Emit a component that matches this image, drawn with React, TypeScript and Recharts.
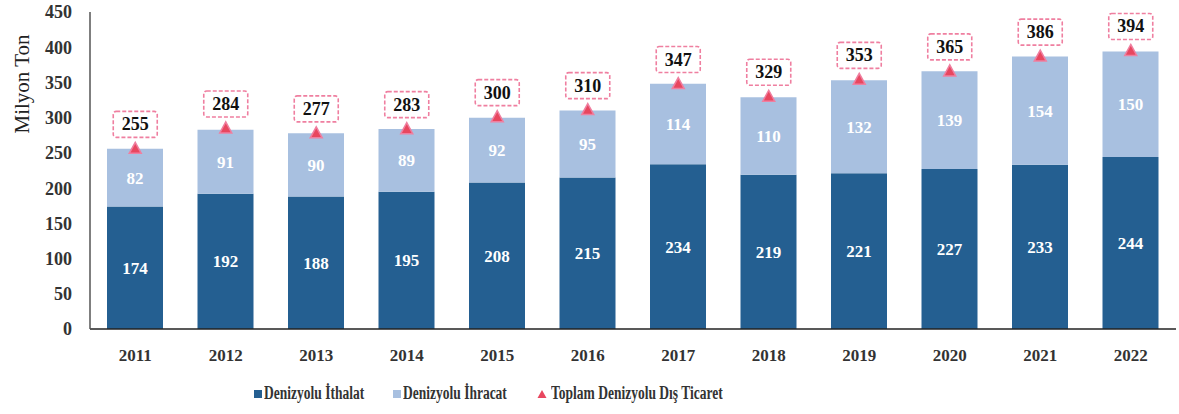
import React from 'react';
import { ComposedChart, Bar, Line, XAxis, YAxis, Legend, LabelList } from 'recharts';

const years = ['2011', '2012', '2013', '2014', '2015', '2016', '2017', '2018', '2019', '2020', '2021', '2022'];
const imports = [174, 192, 188, 195, 208, 215, 234, 219, 221, 227, 233, 244];
const exports = [82, 91, 90, 89, 92, 95, 114, 110, 132, 139, 154, 150];
const totals = [255, 284, 277, 283, 300, 310, 347, 329, 353, 365, 386, 394];
const yTicks = [0, 50, 100, 150, 200, 250, 300, 350, 400, 450];

const data = years.map((y, i) => ({ year: y, imp: imports[i], exp: exports[i], total: totals[i] }));

const DARK = '#245f91';
const LIGHT = '#a8c0e0';
const RED = '#e8475f';
const PINK = '#ef7fa0';
const FONT = "'Liberation Serif', 'DejaVu Serif', serif";

const Tri = (props: any) => {
  const { cx, cy } = props;
  if (cx == null || cy == null) return null;
  return (
    <path
      d={`M${cx},${cy - 7} L${cx + 6},${cy + 4} L${cx - 6},${cy + 4} Z`}
      fill={RED}
      stroke={PINK}
      strokeWidth={1.5}
    />
  );
};

const TotalLabel = (props: any) => {
  const { x, y, value } = props;
  const w = 44;
  const h = 26;
  const bottom = y - 12;
  return (
    <g>
      <rect x={x - w / 2} y={bottom - h} width={w} height={h} rx={3} fill="#fff" stroke={PINK} strokeWidth={1.6} strokeDasharray="4 2" />
      <text x={x} y={bottom - h / 2 + 6} textAnchor="middle" style={{ fontFamily: FONT, fontWeight: 'bold', fontSize: 18 }} fill="#111">
        {value}
      </text>
    </g>
  );
};

const legendText: React.CSSProperties = {
  display: 'inline-block',
  transform: 'scaleX(0.75)',
  transformOrigin: 'left center',
};

const LegendContent = () => (
  <div style={{ position: 'relative', height: 30, fontFamily: FONT, fontWeight: 'bold', fontSize: 18, color: '#333' }}>
    <div style={{ position: 'absolute', left: 254, top: 14, display: 'flex', alignItems: 'center', whiteSpace: 'nowrap' }}>
      <span style={{ width: 8, height: 8, background: DARK, display: 'inline-block', marginRight: 2 }} />
      <span style={legendText}>Denizyolu İthalat</span>
    </div>
    <div style={{ position: 'absolute', left: 393, top: 14, display: 'flex', alignItems: 'center', whiteSpace: 'nowrap' }}>
      <span style={{ width: 8, height: 8, background: LIGHT, display: 'inline-block', marginRight: 2 }} />
      <span style={legendText}>Denizyolu İhracat</span>
    </div>
    <div style={{ position: 'absolute', left: 537, top: 14, display: 'flex', alignItems: 'center', whiteSpace: 'nowrap' }}>
      <svg width={10} height={10} style={{ marginRight: 4 }}>
        <path d="M5,1 L9.5,9 L0.5,9 Z" fill={RED} />
      </svg>
      <span style={legendText}>Toplam Denizyolu Dış Ticaret</span>
    </div>
  </div>
);

const labelStyle = { fontFamily: FONT, fontWeight: 'bold' as const, fontSize: 17 };

export default function App() {
  return (
    <div style={{ position: 'absolute', left: 0, top: 0, width: 1179, height: 414, background: '#fff' }}>
      <div
        style={{
          position: 'absolute',
          left: 22,
          top: 84,
          transform: 'translate(-50%, -50%) rotate(-90deg)',
          fontFamily: FONT,
          fontSize: 21,
          color: '#222',
          whiteSpace: 'nowrap',
          zIndex: 2,
        }}
      >
        Milyon Ton
      </div>
      <ComposedChart width={1179} height={414} data={data} margin={{ top: 12, right: 3, left: 0, bottom: 15 }} barGap={0}>
        <XAxis
          dataKey="year"
          height={40}
          tickLine={false}
          axisLine={{ stroke: '#222', strokeWidth: 1.5 }}
          tick={{ style: { fontFamily: FONT, fontWeight: 'bold', fontSize: 17 }, fill: '#333' }}
          tickMargin={14}
        />
        <YAxis
          width={90}
          domain={[0, 450]}
          ticks={yTicks}
          interval={0}
          tickLine={false}
          axisLine={{ stroke: '#555', strokeWidth: 1.5 }}
          tick={{ style: { fontFamily: FONT, fontWeight: 'bold', fontSize: 18 }, fill: '#333' }}
          tickMargin={12}
        />
        <Legend verticalAlign="bottom" height={30} content={<LegendContent />} />
        <Bar dataKey="imp" stackId="a" fill={DARK} barSize={56} isAnimationActive={false}>
          <LabelList dataKey="imp" position="center" fill="#fff" style={labelStyle} />
        </Bar>
        <Bar dataKey="exp" stackId="a" fill={LIGHT} barSize={56} isAnimationActive={false}>
          <LabelList dataKey="exp" position="center" fill="#fff" style={labelStyle} />
        </Bar>
        <Line dataKey="total" stroke="none" dot={<Tri />} activeDot={false} isAnimationActive={false}>
          <LabelList dataKey="total" content={<TotalLabel />} />
        </Line>
      </ComposedChart>
    </div>
  );
}
